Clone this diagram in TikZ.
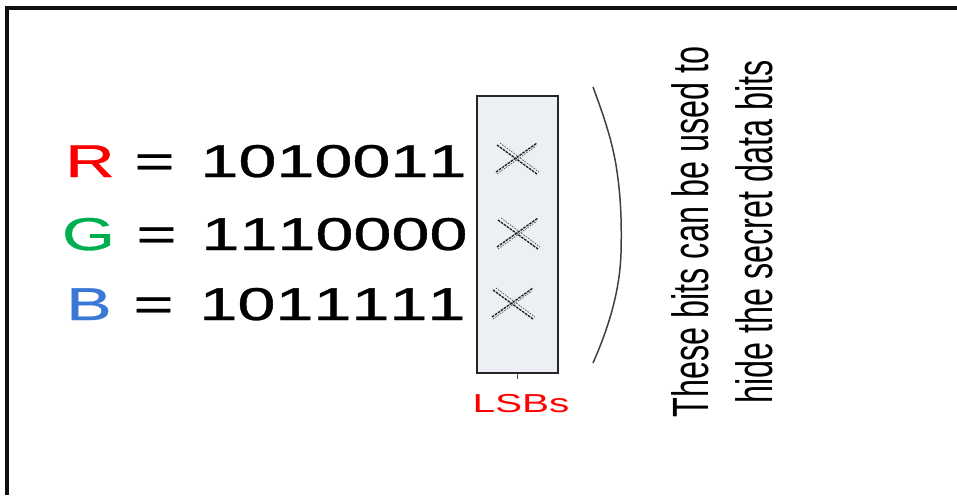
\documentclass[tikz,border=0pt]{standalone}
\usepackage{fontspec}
\setmainfont{Liberation Sans}[Kerning=Off]
\newfontfamily\rowfont{Liberation Sans}[Kerning=Off,FakeBold=0.6]
\definecolor{rred}{RGB}{255,0,0}
\definecolor{ggreen}{RGB}{0,176,80}
\definecolor{bblue}{RGB}{58,120,214}
\definecolor{lsbfill}{RGB}{236,240,245}
\definecolor{framegray}{RGB}{15,15,15}
\begin{document}
\begin{tikzpicture}[x=1pt,y=-1pt,
  eqpart/.style={anchor=base,inner sep=0pt,font=\rowfont\fontsize{46}{55}\selectfont},
  sidetext/.style={anchor=base,inner sep=0pt,rotate=90,font=\fontsize{51}{61}\selectfont},
  lsbbox/.style={draw=black!85,line width=1.2pt,fill=lsbfill},
  xstroke/.style={black!90,line width=1.3pt,dash pattern=on 2.6pt off 1pt},
  xthin/.style={black!70,line width=0.7pt,dash pattern=on 1.5pt off 1.3pt},
  brace/.style={black!75,line width=1.5pt,line join=round},
  frameline/.style={framegray,line width=3.2pt}]
\useasboundingbox (0,0) rectangle (957,495);

% outer frame (only its top and left sides fall inside the page)
\draw[frameline] (7,495) -- (7,8) -- (957,8);

% the three colour components: letter, equals sign, bit string
\newcommand{\wide}[1]{\scalebox{1.486}[1]{#1}}
\node[eqpart,text=rred]   (rname) at (90,177)  {\wide{R}};
\node[eqpart]             (req)   at (154.5,177) {\wide{=}};
\node[eqpart]             (rbits) at (333.5,177) {\wide{1010011}};
\node[eqpart,text=ggreen] (gname) at (88.5,250) {\wide{G}};
\node[eqpart]             (geq)   at (156.5,250) {\wide{=}};
\node[eqpart]             (gbits) at (334.5,250) {\wide{1110000}};
\node[eqpart,text=bblue]  (bname) at (89,320)  {\wide{B}};
\node[eqpart]             (beq)   at (153.5,320) {\wide{=}};
\node[eqpart]             (bbits) at (332.5,320) {\wide{1011111}};

% column of least significant bits
\node[lsbbox,minimum width=81pt,minimum height=277pt,inner sep=0pt] (lsb) at (517.5,234.5) {};
\coordinate (ticktop) at (lsb.south);
\coordinate (tickbot) at (517.5,379);
\draw[black!70,line width=1pt] (ticktop) -- (tickbot);
\node[anchor=base,inner sep=0pt,text=rred,font=\fontsize{26}{31}\selectfont] (lsblabel) at (521,412) {\scalebox{1.56}[1]{LSBs}};

% crossed-out bits
\foreach \cx/\cy in {517/158, 518/233, 513/303} {
  \draw[xstroke] (\cx-21,\cy+14) -- (\cx+20,\cy-15);
  \draw[xstroke] (\cx-20,\cy-13) -- (\cx+20,\cy+16);
  \draw[xthin] (\cx-20,\cy+16) -- (\cx+19,\cy-12);
  \draw[xthin] (\cx-17,\cy-15) -- (\cx+22,\cy+14);
}

% bracket
\draw[brace] (593,87) .. controls (606,122) and (612,142) .. (616,165)
  .. controls (620,190) and (622,215) .. (621,253)
  .. controls (620,285) and (612,320) .. (593,363);

% explanation
\node[sidetext] (note1) at (708,232) {\scalebox{0.635}[1]{These bits can be used to}};
\node[sidetext] (note2) at (772,232) {\scalebox{0.635}[1]{hide the secret data bits}};
\end{tikzpicture}
\end{document}
